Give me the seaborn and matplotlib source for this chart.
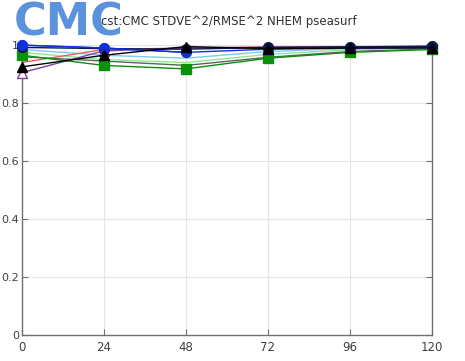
import numpy as np
import pandas as pd
import seaborn as sns
import matplotlib
matplotlib.use('Agg')
import matplotlib.pyplot as plt
from matplotlib.ticker import FormatStrFormatter

# forecast lead (hours)
LEAD = [0, 24, 48, 72, 96, 120]

# STDVE^2 / RMSE^2 per run
GRAY = [0.960, 0.945, 0.930, 0.958, 0.978, 0.988]
LTGREEN = [0.975, 0.950, 0.940, 0.968, 0.984, 0.990]
CYAN = [0.985, 0.965, 0.955, 0.978, 0.988, 0.992]
RED = [0.940, 0.985, 0.990, 0.994, 0.995, 0.995]
PURPLE = [0.905, 0.980, 0.990, 0.992, 0.994, 0.996]
GREEN = [0.965, 0.930, 0.918, 0.955, 0.975, 0.985]
NAVY = [0.992, 0.988, 0.986, 0.992, 0.994, 0.996]
BLUE = [1.000, 0.990, 0.975, 0.986, 0.990, 0.992]
BLACK = [0.925, 0.965, 0.995, 0.988, 0.990, 0.990]

TITLE = 'cst:CMC STDVE^2/RMSE^2 NHEM pseasurf'


def make_plot():
    sns.set_style('white')
    plt.rcParams['font.family'] = ['DejaVu Sans']

    fig = plt.figure(figsize=(4.65, 3.61), dpi=100)
    ax = fig.add_axes([0.047, 0.072, 0.882, 0.803])

    series = [
        (GRAY, '#606060', None, 'none', 2),
        (LTGREEN, '#90e890', None, 'none', 2),
        (CYAN, '#80c8f0', None, 'none', 2),
        (RED, '#e06060', None, 'none', 2),
        (PURPLE, '#8040a0', '^', 'white', 3),
        (GREEN, '#0a900a', 's', '#0a900a', 3),
        (BLUE, '#1030e0', 'o', '#1030e0', 4),
        (NAVY, '#101850', 'o', '#101850', 4.2),
        (BLACK, '#000000', '^', '#000000', 5),
    ]
    for vals, col, mk, fc, z in series:
        df = pd.DataFrame({'lead': LEAD, 'val': vals})
        if mk is None:
            sns.lineplot(data=df, x='lead', y='val', ax=ax, color=col, lw=1.0,
                         zorder=z, clip_on=False)
        else:
            sns.lineplot(data=df, x='lead', y='val', ax=ax, color=col, lw=1.0,
                         marker=mk, markersize=7, markerfacecolor=fc,
                         markeredgecolor=col if fc == 'white' else fc,
                         markeredgewidth=1.0, zorder=z, clip_on=False)

    # blue circles sit on top at the early leads
    df = pd.DataFrame({'lead': LEAD[:3], 'val': BLUE[:3]})
    sns.lineplot(data=df, x='lead', y='val', ax=ax, color='#1030e0', lw=1.0,
                 marker='o', markersize=7, markeredgecolor='#1030e0',
                 zorder=4.5, clip_on=False)

    ax.set_xlim(0, 120)
    ax.set_ylim(0, 1)
    ax.set_xticks(LEAD)
    ax.set_yticks([0, 0.2, 0.4, 0.6, 0.8, 1.0])
    ax.yaxis.set_major_formatter(FormatStrFormatter('%g'))
    ax.set_xlabel('')
    ax.set_ylabel('')
    ax.grid(True, color='#e4e4e4', lw=0.8)
    ax.set_axisbelow(True)

    for side in ['left', 'bottom', 'right']:
        ax.spines[side].set_color('#707070')
        ax.spines[side].set_linewidth(1.0)
    ax.spines['top'].set_visible(False)

    ax.tick_params(axis='both', direction='in', length=4, color='#707070',
                   labelcolor='#404040')
    ax.tick_params(axis='x', bottom=True, labelsize=8.5, pad=4)
    ax.tick_params(axis='y', right=True, left=True, labelsize=8, pad=2)

    fig.text(0.492, 0.94, TITLE, ha='center', va='center', fontsize=8.5,
             color='#303030')
    fig.text(0.03, 0.935, 'CMC', ha='left', va='center', fontsize=32,
             fontweight='bold', color='#5b92dc', zorder=10)

    fig.savefig('out.png', dpi=100)
    return 'complete'


if __name__ == '__main__':
    make_plot()
